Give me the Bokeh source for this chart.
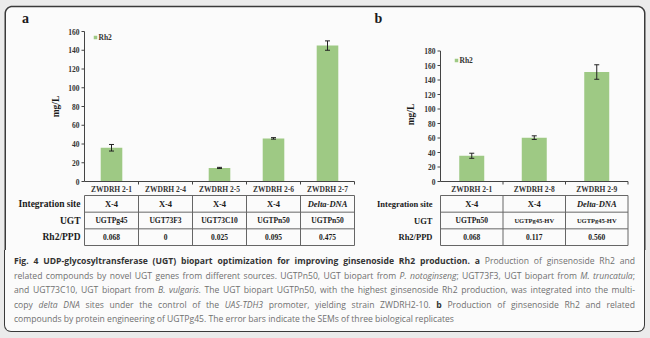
import numpy as np
from bokeh.plotting import figure
from bokeh.models import Range1d, Div
from bokeh.layouts import column
from bokeh.core.properties import value
from bokeh.embed import file_html
from bokeh.resources import INLINE

# ---------------- data ----------------
a_strains = ["ZWDRH 2-1", "ZWDRH 2-4", "ZWDRH 2-5", "ZWDRH 2-6", "ZWDRH 2-7"]
a_rh2 = [36, 0, 14.5, 46, 145]
a_err = [3.5, 0, 0.6, 0.8, 5]
a_site = ["X-4", "X-4", "X-4", "X-4", "Delta-DNA"]
a_ugt = ["UGTPg45", "UGT73F3", "UGT73C10", "UGTPn50", "UGTPn50"]
a_ratio = ["0.068", "0", "0.025", "0.095", "0.475"]
a_yticks = [0, 20, 40, 60, 80, 100, 120, 140, 160]

b_strains = ["ZWDRH 2-1", "ZWDRH 2-8", "ZWDRH 2-9"]
b_rh2 = [35.5, 60.5, 151]
b_err = [3.5, 2.5, 10]
b_site = ["X-4", "X-4", "Delta-DNA"]
b_ugt = ["UGTPn50", "UGTPg45-HV", "UGTPg45-HV"]
b_ratio = ["0.068", "0.117", "0.560"]
b_yticks = [0, 20, 40, 60, 80, 100, 120, 140, 160, 180]

row_labels = ["Integration site", "UGT", "Rh2/PPD"]
series_name = "Rh2"
y_title = "mg/L"

# ---------------- styling ----------------
W, H = 650, 250
BG = "#ebebeb"
PANEL = "#fbfbfb"
GREEN = "#9ec984"
SERIF = value("Liberation Serif")
INK = "#1a1a1a"


def xrange_for(px0, px1, n):
    s = (px1 - px0) / n
    start = -0.5 - px0 / s
    return Range1d(start, start + W / s)


def yrange_for(py0, py1, vmax):
    s = (py0 - py1) / vmax
    start = -(H - py0) / s
    return Range1d(start, start + H / s)


p = figure(width=W, height=H, x_range=Range1d(0, W), y_range=Range1d(H, 0),
           x_axis_type=None, y_axis_type=None, toolbar_location=None,
           output_backend="svg", min_border=0, outline_line_color=None,
           background_fill_color=BG, border_fill_color=BG)

# rounded frame (extends below the canvas; the caption block continues it)
r = 7
L, R, T, B = 4.75, 644.25, 6, 400
ang = np.linspace(0, np.pi / 2, 12)
fx = list(L + r - r * np.cos(ang)) + list(R - r + r * np.sin(ang)) + [R, L]
fy = list(T + r - r * np.sin(ang)) + list(T + r - r * np.cos(ang)) + [B, B]
p.patch(fx, fy, fill_color=PANEL, line_color="#3a3a3a", line_width=1.5)

p.extra_x_ranges = {"xa": xrange_for(84, 354, len(a_strains)),
                    "xb": xrange_for(440, 627.5, len(b_strains))}
p.extra_y_ranges = {"ya": yrange_for(181, 31, a_yticks[-1]),
                    "yb": yrange_for(181, 50.5, b_yticks[-1])}


def chart(xk, yk, strains, vals, errs, ticks, site, ugt, ratio,
          legend_xy, ytitle_xy, label_xy, letter, lab_size, cell_sizes, site_size,
          lab_pad):
    n = len(strains)
    idx = np.arange(n)
    kw = dict(x_range_name=xk, y_range_name=yk)
    # bars
    p.vbar(x=idx, top=vals, width=0.4, fill_color=GREEN, line_color=None, **kw)
    # error bars
    ei = [i for i in range(n) if errs[i] > 0]
    lo = [vals[i] - errs[i] for i in ei]
    hi = [vals[i] + errs[i] for i in ei]
    p.segment(x0=ei, y0=lo, x1=ei, y1=hi, line_color="#222", line_width=1, **kw)
    p.scatter(x=ei + ei, y=lo + hi, marker="dash", size=5, line_color="#222",
              line_width=1, **kw)
    # axes
    p.segment(x0=[-0.5], y0=[0], x1=[-0.5], y1=[ticks[-1]], line_color="#444",
              line_width=1, **kw)
    p.segment(x0=[-0.5], y0=[0], x1=[n - 0.5], y1=[0], line_color="#444",
              line_width=1, **kw)
    p.ray(x=[-0.5] * len(ticks), y=ticks, length=3, length_units="screen",
          angle=np.pi, line_color="#444", line_width=1, **kw)
    p.ray(x=list(idx + 0.5), y=[0] * n, length=3, length_units="screen",
          angle=-np.pi / 2, line_color="#444", line_width=1, **kw)
    p.text(x=[-0.5] * len(ticks), y=ticks, text=[str(t) for t in ticks],
           x_offset=-5, text_align="right", text_baseline="middle",
           text_font=SERIF, text_font_style="bold", text_font_size="7.5px",
           text_color="#333", **kw)
    # category labels
    tk = dict(x_range_name=xk, y_range_name="default")
    p.text(x=idx, y=[188.5] * n, text=strains, text_align="center",
           text_baseline="middle", text_font=SERIF, text_font_style="bold",
           text_font_size="7.5px", text_color="#333", **tk)
    # table
    top, bot = 195, 245
    rh = (bot - top) / 3
    p.segment(x0=list(np.arange(n + 1) - 0.5), y0=[top] * (n + 1),
              x1=list(np.arange(n + 1) - 0.5), y1=[bot] * (n + 1),
              line_color="#666", line_width=1, **tk)
    ys = [top + rh * k for k in range(4)]
    p.segment(x0=[-0.5] * 4, y0=ys, x1=[n - 0.5] * 4, y1=ys,
              line_color="#666", line_width=1, **tk)
    cy = [top + rh * (k + 0.5) for k in range(3)]
    p.text(x=[-0.5] * 3, y=cy, text=row_labels, x_offset=-lab_pad,
           text_align="right", text_baseline="middle", text_font=SERIF,
           text_font_style="bold", text_font_size=lab_size, text_color=INK, **tk)
    plain = [i for i in range(n) if site[i] == "X-4"]
    ital = [i for i in range(n) if site[i] != "X-4"]
    p.text(x=plain, y=[cy[0]] * len(plain), text=[site[i] for i in plain],
           text_align="center", text_baseline="middle", text_font=SERIF,
           text_font_style="bold", text_font_size=site_size, text_color=INK, **tk)
    p.text(x=ital, y=[cy[0]] * len(ital), text=[site[i] for i in ital],
           text_align="center", text_baseline="middle", text_font=SERIF,
           text_font_style="bold italic", text_font_size=site_size, text_color=INK, **tk)
    p.text(x=idx, y=[cy[1]] * n, text=ugt, text_align="center",
           text_baseline="middle", text_font=SERIF, text_font_style="bold",
           text_font_size=[cell_sizes[1] if len(u) > 8 else cell_sizes[0] for u in ugt],
           text_color=INK, **tk)
    p.text(x=idx, y=[cy[2]] * n, text=ratio, text_align="center",
           text_baseline="middle", text_font=SERIF, text_font_style="bold",
           text_font_size=cell_sizes[0], text_color=INK, **tk)
    # legend
    lx, ly = legend_xy
    p.scatter(x=[lx], y=[ly], marker="square", size=3.5, fill_color=GREEN,
              line_color=None)
    p.text(x=[lx + 3], y=[ly], text=[series_name], text_baseline="middle",
           text_font=SERIF, text_font_style="bold", text_font_size="7.5px",
           text_color="#333")
    # y title
    tx, ty = ytitle_xy
    p.text(x=[tx], y=[ty], text=[y_title], angle=np.pi / 2, text_align="center",
           text_baseline="middle", text_font=SERIF, text_font_style="bold",
           text_font_size="9.5px", text_color=INK)
    # panel letter
    gx, gy = label_xy
    p.text(x=[gx], y=[gy], text=[letter], text_align="center",
           text_baseline="middle", text_font=SERIF, text_font_style="bold",
           text_font_size="14px", text_color=INK)


chart("xa", "ya", a_strains, a_rh2, a_err, a_yticks, a_site, a_ugt, a_ratio,
      (95, 37), (55, 106), (25, 18), "a", "9.5px", ("7.5px", "7.5px"), "8.5px", 4)
chart("xb", "yb", b_strains, b_rh2, b_err, b_yticks, b_site, b_ugt, b_ratio,
      (456, 60), (410, 114), (378, 18), "b", "8.5px", ("7.5px", "6.5px"), "8.5px", 8)

# ---------------- caption ----------------
J = "display:block;white-space:nowrap;text-align:justify;text-align-last:justify;"
N = "display:block;white-space:nowrap;"
BD = "font-weight:700;color:#333;"
lines = [
    (J, f'<span style="{BD}">Fig. 4 UDP-glycosyltransferase (UGT) biopart optimization for improving ginsenoside Rh2 production. a</span> Production of ginsenoside Rh2 and'),
    (J, 'related compounds by novel UGT genes from different sources. UGTPn50, UGT biopart from <i>P. notoginseng</i>; UGT73F3, UGT biopart from <i>M. truncatula</i>;'),
    (J, 'and UGT73C10, UGT biopart from <i>B. vulgaris</i>. The UGT biopart UGTPn50, with the highest ginsenoside Rh2 production, was integrated into the multi-'),
    (J, f'copy <i>delta DNA</i> sites under the control of the <i>UAS-TDH3</i> promoter, yielding strain ZWDRH2-10. <span style="{BD}">b</span> Production of ginsenoside Rh2 and related'),
    (N, 'compounds by protein engineering of UGTPg45. The error bars indicate the SEMs of three biological replicates'),
]
inner = "".join(f'<span style="{s}">{t}</span>' for s, t in lines)
html = ('<div style="box-sizing:border-box;margin:0 5px 0 4px;height:82px;'
        f'width:641px;background:{PANEL};border:1.5px solid #3a3a3a;border-top:none;'
        'border-radius:0 0 7px 7px;padding:4px 9px 0 9px;'
        "font-family:'Open Sans';font-size:8.6px;line-height:14.5px;color:#707070;\">"
        f'{inner}</div>')
div = Div(text=html, width=W, height=338 - H, margin=0,
          styles={"background-color": BG})

layout = column(p, div, spacing=0, styles={"background-color": BG})
open("out.html", "w").write(file_html(layout, INLINE))
